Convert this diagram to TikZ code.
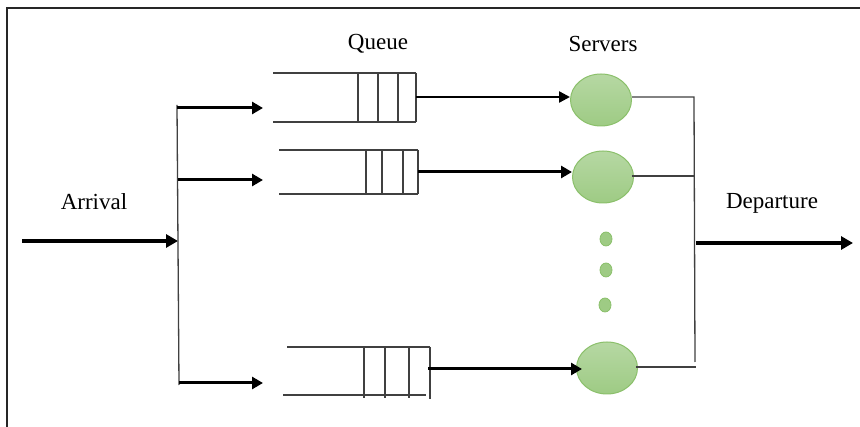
\documentclass[tikz,border=0pt]{standalone}
\usepackage{fontspec}
\setmainfont{Liberation Serif}
\usetikzlibrary{arrows.meta,shapes.geometric}

\definecolor{srvtop}{HTML}{B6D8A3}
\definecolor{srvbot}{HTML}{9ECB84}
\definecolor{srvedge}{HTML}{8BC06B}

\tikzset{
  frameline/.style={line width=2pt, draw=black!85},
  thinline/.style={line width=1.3pt, draw=black!75},
  boldarrow/.style={line width=3.2pt, -{Triangle[length=12pt,width=13pt]}},
  feedarrow/.style={line width=3pt, -{Triangle[length=11pt,width=12pt]}},
  queueline/.style={line width=1.3pt, draw=black!75},
  server/.style={ellipse, draw=srvedge, line width=1pt,
    top color=srvtop, bottom color=srvbot,
    minimum width=61pt, minimum height=52pt, inner sep=0pt},
  dot/.style={ellipse, draw=srvedge, line width=0.8pt,
    fill=srvbot, minimum width=12pt, minimum height=14pt, inner sep=0pt},
  lbl/.style={font=\fontsize{23}{27}\selectfont, inner sep=0pt}
}

\begin{document}
\begin{tikzpicture}[x=1pt, y=-1pt]
  % canvas
  \useasboundingbox (0,0) rectangle (860,427);
  \fill[white] (0,0) rectangle (860,427);

  % frame (only the top and left edges show)
  \draw[frameline] (7,427) -- (7,8) -- (860,8);

  % labels
  \node[lbl] (queuelbl)  at (378,44)  {Queue};
  \node[lbl] (serverlbl) at (603,44)  {Servers};
  \node[lbl] (arrlbl)    at (94,202)  {Arrival};
  \node[lbl] (deplbl)    at (772,203) {Departure};

  % arrival trunk and branches
  \coordinate (arrin)  at (22,241);
  \coordinate (trunkA) at (178,241);
  \coordinate (tb1) at (177,108);
  \coordinate (tb2) at (178,180);
  \coordinate (tb3) at (179,383);
  \coordinate (tbtop) at (177,105);
  \coordinate (tbbot) at (179,385);
  \coordinate (fe1) at (263,108);
  \coordinate (fe2) at (263,180);
  \coordinate (fe3) at (263,383);

  \draw[boldarrow] (arrin) -- (trunkA);
  \draw[thinline] (tbtop) -- (tbbot);
  \draw[feedarrow] (tb1) -- (fe1);
  \draw[feedarrow] (tb2) -- (fe2);
  \draw[feedarrow] (tb3) -- (fe3);

  % queue 1
  \draw[queueline] (273,73) -- (416,73) (273,122) -- (416,122);
  \foreach \xx in {358,378,398,416} \draw[queueline] (\xx,73) -- (\xx,122);
  \coordinate (q1) at (416,97);

  % queue 2
  \draw[queueline] (279,150) -- (418,150) (279,194) -- (418,194);
  \foreach \xx in {366,382,403,418} \draw[queueline] (\xx,150) -- (\xx,194);
  \coordinate (q2) at (418,172);

  % queue 3
  \draw[queueline] (287,347) -- (430,347) (283,395) -- (426,395);
  \foreach \xx in {364,385,409} \draw[queueline] (\xx,347) -- (\xx,398);
  \draw[queueline] (430,347) -- (430,399);
  \coordinate (q3) at (428,369);

  % servers
  \node[server] (s1) at (601,100) {};
  \node[server] (s2) at (603,177) {};
  \node[server] (s3) at (607,368) {};
  \node[dot] (d1) at (606,239) {};
  \node[dot] (d2) at (606,270) {};
  \node[dot] (d3) at (605,305) {};

  % queue to server
  \draw[line width=2.4pt, -{Triangle[length=11pt,width=11pt]}] (q1) -- (s1.west |- q1);
  \draw[line width=3pt, -{Triangle[length=11pt,width=12pt]}] (q2) -- (s2.west |- q2);
  \draw[line width=3pt, -{Triangle[length=11pt,width=12pt]}] (q3) -- ([xshift=6pt]s3.west |- q3);

  % departure collector
  \coordinate (j1) at (694,97);
  \coordinate (j2) at (694,176);
  \coordinate (j3) at (696,367);
  \coordinate (jbot) at (695,362);
  \coordinate (depA) at (696,243);
  \coordinate (depB) at (853,243);

  \draw[thinline] (s1.east |- j1) -- (j1) -- (jbot);
  \draw[thinline] ([xshift=-2pt]s2.east |- j2) -- (j2);
  \draw[thinline] ([xshift=-2pt]s3.east |- j3) -- (j3);
  \draw[boldarrow] (depA) -- (depB);
\end{tikzpicture}
\end{document}
